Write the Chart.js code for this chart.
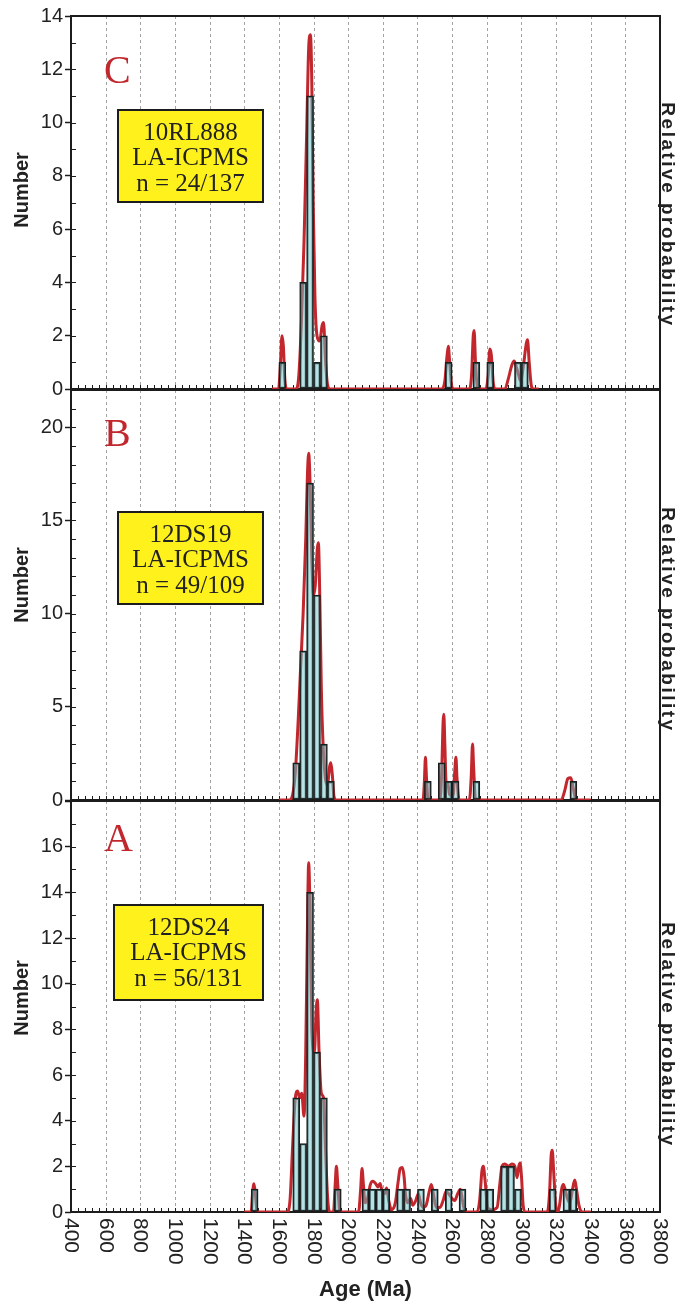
<!DOCTYPE html>
<html>
<head>
<meta charset="utf-8">
<script src="https://cdn.jsdelivr.net/npm/chart.js@4.4.0/dist/chart.umd.min.js"></script>
<style>
    body { margin: 0; background: #fff; width: 683px; height: 1303px; position: relative; overflow: hidden; }
    canvas { position: absolute; left: 0; }
</style>
</head>
<body>
<canvas id="panelC" width="683" height="400" style="top:0px"></canvas>
<canvas id="panelB" width="683" height="430" style="top:380px"></canvas>
<canvas id="panelA" width="683" height="513" style="top:790px"></canvas>
<script>
// age axis (Ma) and histogram bin width
const ageTicks = [400, 600, 800, 1000, 1200, 1400, 1600, 1800, 2000, 2200, 2400, 2600, 2800, 3000, 3200, 3400, 3600, 3800];
const BIN = 40;

// C - 10RL888: histogram bins (start age) and counts
const binsC = [1600, 1720, 1760, 1800, 1840, 2560, 2720, 2800, 2960, 3000];
const countsC = [1, 4, 11, 1, 2, 1, 1, 1, 1, 1];
// C - relative probability curve (in "Number" units)
const probAgesC = [1560, 1598, 1608, 1618, 1626, 1634, 1645,
    1700, 1715, 1730, 1745, 1760, 1772, 1782, 1790, 1798, 1808, 1820, 1835, 1850, 1858, 1868, 1880, 1895,
    2540, 2558, 2570, 2578, 2586, 2598, 2610,
    2700, 2712, 2722, 2727, 2735, 2748,
    2795, 2808, 2818, 2826, 2838, 2850,
    2905, 2925, 2945, 2958, 2972, 2985, 2995, 3010, 3028, 3035, 3045, 3058, 3070, 3100];
const probC = [0, 0, 0.8, 2.0, 1.6, 0.4, 0,
    0, 0.5, 2.5, 5.5, 9.5, 12.8, 13.3, 11.5, 7, 3.5, 2, 1.8, 2.4, 2.5, 1.2, 0.2, 0,
    0, 0.3, 1.2, 1.6, 1.0, 0.1, 0,
    0, 0.5, 2.0, 2.2, 1.0, 0,
    0, 0.5, 1.5, 1.3, 0.2, 0,
    0, 0.4, 0.9, 1.05, 0.8, 0.5, 0.3, 0.8, 1.7, 1.85, 1.0, 0.1, 0, 0];

// B - 12DS19
const binsB = [1680, 1720, 1760, 1800, 1840, 1880, 2440, 2520, 2560, 2600, 2720, 3280];
const countsB = [2, 8, 17, 11, 3, 1, 1, 2, 1, 1, 1, 1];
const probAgesB = [1600, 1660, 1680, 1695, 1710, 1725, 1740, 1755, 1765, 1772,
    1780, 1790, 1800, 1810, 1822, 1828, 1836, 1845, 1855, 1868,
    1880, 1893, 1900, 1908, 1918, 1930,
    2432, 2440, 2446, 2452, 2462,
    2530, 2540, 2548, 2552, 2558, 2565, 2575, 2585, 2605, 2615, 2622, 2628, 2640,
    2700, 2710, 2718, 2724, 2735,
    3230, 3250, 3268, 3285, 3300, 3315, 3400];
const probB = [0, 0, 0.3, 1.5, 4, 7, 10, 14, 17.5, 18.6,
    17, 13, 11, 11.5, 13.5, 13.8, 11, 6, 3, 1.2,
    0.8, 1.8, 2.0, 1.4, 0.2, 0,
    0, 1.0, 2.3, 1.2, 0,
    0, 1.5, 4.2, 4.6, 3.0, 1.0, 0.9, 0.3, 0.2, 1.5, 2.3, 1.2, 0,
    0, 1.2, 3.0, 1.8, 0,
    0, 0.5, 1.15, 1.2, 0.6, 0, 0];

// A - 12DS24
const binsA = [1440, 1680, 1720, 1760, 1800, 1840, 1920, 2080, 2120, 2160, 2200, 2280, 2320,
    2400, 2480, 2560, 2640, 2760, 2800, 2880, 2920, 2960, 3160, 3240, 3280];
const countsA = [1, 5, 3, 14, 7, 5, 1, 1, 1, 1, 1, 1, 1,
    1, 1, 1, 1, 1, 1, 2, 2, 1, 1, 1, 1];
const probAgesA = [1400, 1440, 1448, 1456, 1464, 1475,
    1650, 1665, 1680, 1695, 1708, 1720, 1732, 1745, 1755, 1764,
    1772, 1780, 1790, 1805, 1815, 1822, 1832, 1845, 1858, 1868,
    1880, 1892,
    1915, 1925, 1932, 1940, 1952,
    2060, 2072, 2080, 2088, 2098, 2112, 2128, 2142, 2158, 2172,
    2184, 2196, 2210, 2222, 2234, 2250,
    2272, 2288, 2300, 2312, 2322, 2332, 2345, 2360, 2372, 2390,
    2405, 2418, 2432, 2450, 2468, 2480, 2492, 2508, 2530, 2548,
    2565, 2580, 2598, 2615, 2632, 2648, 2660, 2675,
    2745, 2760, 2772, 2780, 2790, 2805, 2830, 2860, 2875, 2888,
    2905, 2925, 2945, 2962, 2975, 2985, 2992, 3000, 3010, 3020,
    3150, 3162, 3172, 3178, 3186, 3198, 3212, 3222, 3232, 3242,
    3252, 3265, 3280, 3295, 3308, 3318, 3332, 3350, 3400];
const probA = [0, 0, 0.8, 1.24, 0.8, 0,
    0, 0.6, 3, 5.0, 5.3, 5.0, 5.2, 4.2, 7, 12,
    15.3, 13, 8, 7, 8.8, 9.3, 7, 5.2, 5.0, 3,
    0.8, 0,
    0, 1.2, 2.0, 1.2, 0,
    0, 1.0, 1.9, 1.2, 0.4, 0.6, 1.2, 1.35, 1.25, 1.1,
    1.25, 0.9, 0.8, 1.05, 0.5, 0.1,
    0.4, 1.3, 1.9, 1.95, 1.6, 0.7, 0.4, 0.6, 0.3, 0.5,
    0.8, 0.4, 0.2, 0.3, 0.9, 1.2, 0.8, 0.2, 0.2, 0.5,
    0.9, 0.8, 0.6, 0.5, 0.8, 1.0, 0.5, 0,
    0, 0.6, 1.8, 2.0, 1.4, 0.2, 0.1, 0.2, 1.2, 2.0,
    2.1, 2.0, 2.1, 2.0, 1.5, 2.0, 2.15, 1.6, 0.3, 0,
    0, 0.8, 2.5, 2.7, 1.8, 0.3, 0, 0.4, 1.0, 1.2,
    1.0, 0.6, 0.4, 1.0, 1.4, 1.0, 0.3, 0, 0];

const SANS = "'Liberation Sans', Arial, sans-serif";
const SERIF = "'Liberation Serif', 'Times New Roman', serif";
const RED = '#c1272d';
const INK = '#1c1c1c';

// frame, grid, minor ticks and all the loose text of a panel
function decorFor(p) {
    return {
        id: 'decor' + p.letter,
        beforeDatasetsDraw(chart) {
            const { ctx, chartArea: a, scales: { x, y } } = chart;
            ctx.save();
            ctx.strokeStyle = '#a3a3a3';
            ctx.lineWidth = 1;
            ctx.setLineDash([3, 3]);
            ageTicks.slice(1, -1).forEach(v => {
                const px = Math.round(x.getPixelForValue(v)) + 0.5;
                ctx.beginPath();
                ctx.moveTo(px, a.top);
                ctx.lineTo(px, a.bottom);
                ctx.stroke();
            });
            ctx.setLineDash([]);
            ctx.strokeStyle = INK;
            ctx.beginPath();
            for (let v = ageTicks[0]; v <= ageTicks[ageTicks.length - 1]; v += BIN) {
                const px = Math.round(x.getPixelForValue(v)) + 0.5;
                ctx.moveTo(px, a.bottom);
                ctx.lineTo(px, a.bottom - 4);
            }
            for (let v = 1; v < y.max; v++) {
                const py = Math.round(y.getPixelForValue(v)) + 0.5;
                ctx.moveTo(a.left, py);
                ctx.lineTo(a.left + 5, py);
            }
            ctx.stroke();
            ctx.lineWidth = 2;
            ctx.strokeRect(a.left, a.top, a.right - a.left, a.bottom - a.top);
            ctx.restore();
        },
        afterDraw(chart) {
            const { ctx, chartArea: a, scales: { x } } = chart;
            const off = p.top;
            ctx.save();

            // panel letter
            ctx.fillStyle = RED;
            ctx.font = '40px ' + SERIF;
            ctx.textAlign = 'left';
            ctx.textBaseline = 'alphabetic';
            ctx.fillText(p.letter, 104, p.letterY - off);

            // sample box
            const [bx, by, bw, bh] = p.box;
            ctx.fillStyle = '#fff21c';
            ctx.fillRect(bx, by - off, bw, bh);
            ctx.strokeStyle = INK;
            ctx.lineWidth = 2;
            ctx.strokeRect(bx, by - off, bw, bh);
            ctx.fillStyle = '#222';
            ctx.font = '25px ' + SERIF;
            ctx.textAlign = 'center';
            ctx.textBaseline = 'middle';
            p.lines.forEach((t, i) => ctx.fillText(t, bx + bw / 2, by - off + 23 + i * 25.5));

            // left and right axis titles
            ctx.font = 'bold 20px ' + SANS;
            ctx.save();
            ctx.translate(22, p.numberY - off);
            ctx.rotate(-Math.PI / 2);
            ctx.fillText('Number', 0, 0);
            ctx.restore();
            ctx.save();
            ctx.translate(667, p.relY - off);
            ctx.rotate(Math.PI / 2);
            ctx.font = 'bold 19px ' + SANS;
            ctx.letterSpacing = '2.5px';
            ctx.fillText('Relative probability', 0, 0);
            ctx.restore();

            // age labels, turned clockwise, only under the bottom panel
            if (p.xLabels) {
                ctx.font = '21px ' + SANS;
                ctx.textAlign = 'left';
                ctx.textBaseline = 'middle';
                ageTicks.forEach(v => {
                    ctx.save();
                    ctx.translate(x.getPixelForValue(v), a.bottom + 6);
                    ctx.rotate(Math.PI / 2);
                    ctx.fillText(String(v), 0, 0);
                    ctx.restore();
                });
            }
            ctx.restore();
        }
    };
}

function makePanel(id, p) {
    return new Chart(document.getElementById(id), {
        type: 'bar',
        data: {
            datasets: [{
                type: 'bar',
                data: p.bins.map((b, i) => ({ x: b + BIN / 2, y: p.counts[i] })),
                backgroundColor: 'rgba(112, 196, 200, 0.5)',
                borderColor: INK,
                borderWidth: 1.5,
                borderSkipped: false,
                barPercentage: 1,
                categoryPercentage: 1,
                order: 1
            }, {
                type: 'line',
                data: p.probAges.map((t, i) => ({ x: t, y: p.prob[i] })),
                borderColor: RED,
                borderWidth: 3,
                pointRadius: 0,
                cubicInterpolationMode: 'monotone',
                fill: false,
                order: 2
            }]
        },
        options: {
            responsive: false,
            animation: false,
            layout: { padding: { top: p.padTop, right: 23, bottom: p.padBottom, left: 0 } },
            plugins: { legend: { display: false }, tooltip: { enabled: false } },
            scales: {
                x: {
                    type: 'linear',
                    min: ageTicks[0],
                    max: ageTicks[ageTicks.length - 1],
                    offset: false,
                    display: !!p.xLabels,
                    ticks: { display: false, stepSize: 200 },
                    grid: { display: false },
                    border: { display: false },
                    title: {
                        display: !!p.xLabels,
                        text: 'Age (Ma)',
                        color: '#222',
                        font: { family: SANS, size: 22, weight: 'bold' },
                        padding: { top: 0, bottom: 0 }
                    },
                    afterFit: s => {
                        s.height = p.xLabels ? 91 : 0;
                        s.paddingLeft = 0;
                        s.paddingRight = 0;
                    }
                },
                y: {
                    min: 0,
                    max: p.yMax,
                    ticks: {
                        stepSize: p.yStep,
                        includeBounds: false,
                        color: '#222',
                        padding: 2,
                        font: { family: SANS, size: 20 },
                        callback: v => (p.hideTop && v === p.yMax ? '' : v)
                    },
                    grid: { drawOnChartArea: false, drawTicks: true, tickLength: 6, tickColor: INK, tickWidth: 1.5 },
                    border: { display: false },
                    afterFit: s => {
                        s.width = 71;
                        s.paddingTop = 0;
                        s.paddingBottom = 0;
                    }
                }
            }
        },
        plugins: [decorFor(p)]
    });
}

// canvases overlap by a few pixels so the edge tick labels are not cut
makePanel('panelC', {
    top: 0, padTop: 16, padBottom: 11, yMax: 14, yStep: 2,
    bins: binsC, counts: countsC, probAges: probAgesC, prob: probC,
    letter: 'C', letterY: 83, box: [118, 110, 145, 92],
    lines: ['10RL888', 'LA-ICPMS', 'n = 24/137'],
    numberY: 190, relY: 215
});

makePanel('panelB', {
    top: 380, padTop: 10, padBottom: 10, yMax: 22, yStep: 5,
    bins: binsB, counts: countsB, probAges: probAgesB, prob: probB,
    letter: 'B', letterY: 446, box: [118, 512, 145, 92],
    lines: ['12DS19', 'LA-ICPMS', 'n = 49/109'],
    numberY: 585, relY: 620
});

makePanel('panelA', {
    top: 790, padTop: 11, padBottom: 0, yMax: 18, yStep: 2, hideTop: true,
    bins: binsA, counts: countsA, probAges: probAgesA, prob: probA,
    letter: 'A', letterY: 851, box: [114, 905, 149, 95],
    lines: ['12DS24', 'LA-ICPMS', 'n = 56/131'],
    numberY: 998, relY: 1035, xLabels: true
});
</script>
</body>
</html>
